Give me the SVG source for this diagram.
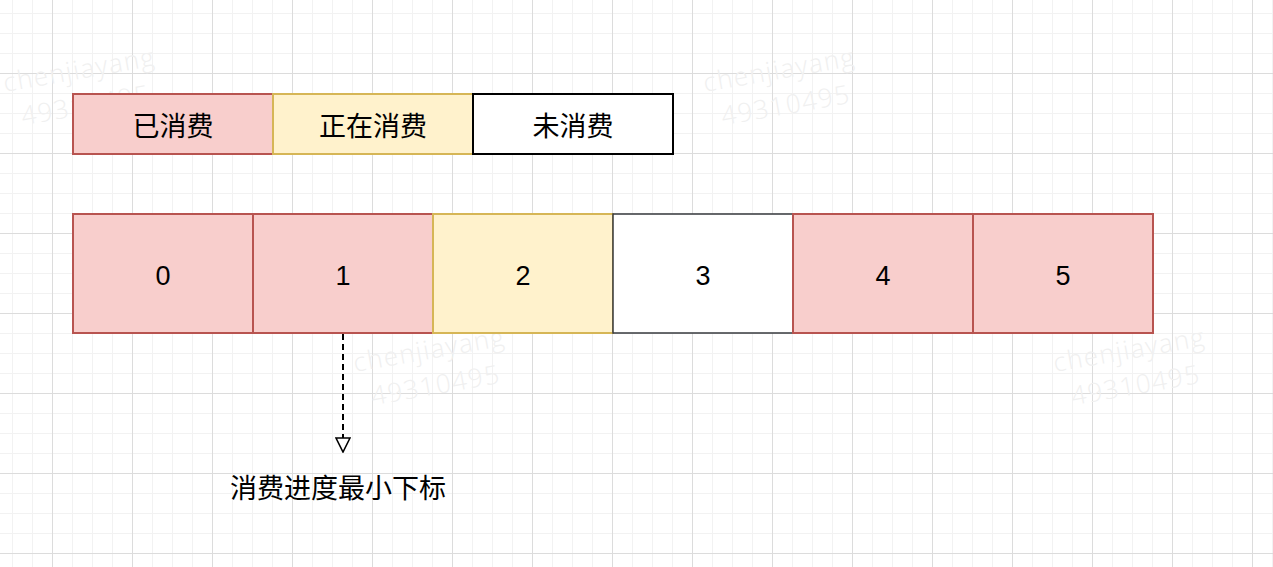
<svg xmlns="http://www.w3.org/2000/svg" width="1273" height="567" viewBox="0 0 1273 567">
  <defs>
    <pattern id="grid" x="52" y="73" width="80" height="80" patternUnits="userSpaceOnUse">
      <path d="M20.5 0V80M40.5 0V80M60.5 0V80M0 20.5H80M0 40.5H80M0 60.5H80" stroke="#f2f2f2" stroke-width="1" fill="none"/>
      <path d="M0.5 0V80M0 0.5H80" stroke="#dcdcdc" stroke-width="1" fill="none"/>
    </pattern>
    <marker id="openTri" viewBox="0 0 16 16" refX="15" refY="8" markerWidth="16" markerHeight="16" markerUnits="userSpaceOnUse" orient="auto">
      <path d="M1 1 L15 8 L1 15 Z" fill="#ffffff" stroke="#000000" stroke-width="1.6"/>
    </marker>
  </defs>
  <style>
    .wm { font-family: "Open Sans", "Liberation Sans", sans-serif; font-weight: 300; font-size: 26px; fill: #f0f0f0; letter-spacing: 1.5px; }
    .done { fill: #f8cecc; stroke: #b85450; stroke-width: 2; }
    .doing { fill: #fff2cc; stroke: #d6b656; stroke-width: 2; }
    .todo { fill: #ffffff; stroke: #000000; stroke-width: 2; }
    .todo2 { fill: #ffffff; stroke: #36393d; stroke-width: 1.5; }
    .cjk { font-family: "Liberation Serif", "Noto Sans CJK SC", serif; font-size: 27px; fill: #000000; text-anchor: middle; dominant-baseline: central; }
    .num { font-family: "Liberation Sans", "DejaVu Sans", sans-serif; font-size: 27px; fill: #000000; text-anchor: middle; }
  </style>
  <rect x="0" y="0" width="1273" height="567" fill="#ffffff"/>
  <rect x="0" y="0" width="1273" height="567" fill="url(#grid)"/>

  <g id="watermarks">
    <g transform="translate(5,92) rotate(-10)"><text class="wm" x="0" y="0">chenjiayang</text><text class="wm" x="12" y="36">49310495</text></g>
    <g transform="translate(705,92) rotate(-10)"><text class="wm" x="0" y="0">chenjiayang</text><text class="wm" x="12" y="36">49310495</text></g>
    <g transform="translate(355,372) rotate(-10)"><text class="wm" x="0" y="0">chenjiayang</text><text class="wm" x="12" y="36">49310495</text></g>
    <g transform="translate(1055,372) rotate(-10)"><text class="wm" x="0" y="0">chenjiayang</text><text class="wm" x="12" y="36">49310495</text></g>
  </g>

  <g id="legend-consumed"><rect class="done" x="73" y="94" width="200" height="60"/><text class="cjk" x="173" y="126.5">已消费</text></g>
  <g id="legend-consuming"><rect class="doing" x="273" y="94" width="200" height="60"/><text class="cjk" x="373" y="126.5">正在消费</text></g>
  <g id="legend-unconsumed"><rect class="todo" x="473" y="94" width="200" height="60"/><text class="cjk" x="573" y="126.5">未消费</text></g>

  <g id="cell-0"><rect class="done" x="73" y="214" width="180" height="119"/><text class="num" x="163" y="285">0</text></g>
  <g id="cell-1"><rect class="done" x="253" y="214" width="180" height="119"/><text class="num" x="343" y="285">1</text></g>
  <g id="cell-2"><rect class="doing" x="433" y="214" width="180" height="119"/><text class="num" x="523" y="285">2</text></g>
  <g id="cell-3"><rect class="todo2" x="613" y="214" width="180" height="119"/><text class="num" x="703" y="285">3</text></g>
  <g id="cell-4"><rect class="done" x="793" y="214" width="180" height="119"/><text class="num" x="883" y="285">4</text></g>
  <g id="cell-5"><rect class="done" x="973" y="214" width="180" height="119"/><text class="num" x="1063" y="285">5</text></g>

  <g id="connectors">
    <line x1="343" y1="334" x2="343" y2="452" stroke="#000000" stroke-width="2" stroke-dasharray="6 4" marker-end="url(#openTri)"/>
  </g>

  <g id="label-min-index"><text class="cjk" x="338" y="489">消费进度最小下标</text></g>
</svg>
